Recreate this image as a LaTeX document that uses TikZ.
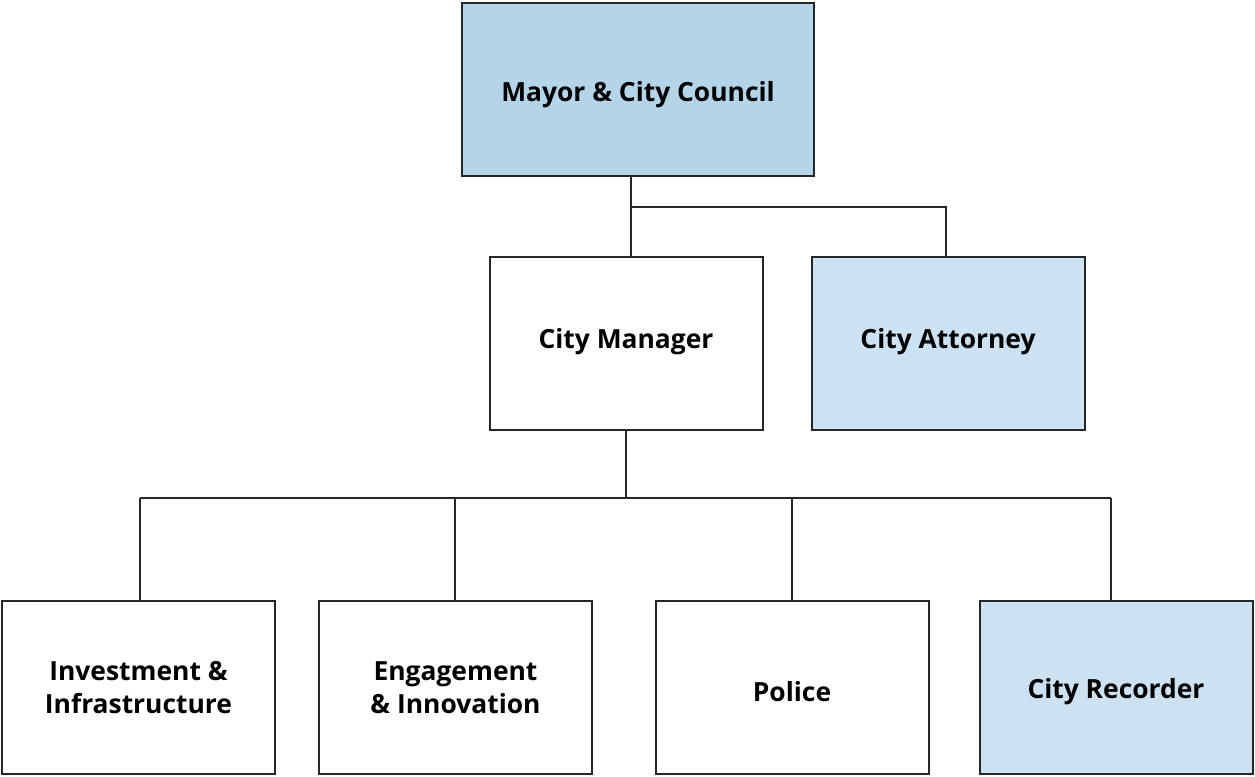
\documentclass[tikz,border=0pt]{standalone}
\usepackage{fontspec}
\setmainfont{Open Sans}
\definecolor{boxblue}{HTML}{B4D4EA}
\definecolor{lightblue}{HTML}{CCE1F1}
\definecolor{edge}{HTML}{262626}
\newcommand{\lowertext}[2]{\raisebox{0pt}[\dimexpr\height+#1\relax]{#2}}
\newcommand{\raisetext}[2]{\raisebox{0pt}[\height][\dimexpr\depth+#1\relax]{#2}}
\begin{document}
\begin{tikzpicture}[x=0.75pt,y=-0.75pt,
  orgbox/.style={draw=edge,line width=1.5pt,minimum width=204.75pt,minimum height=129.75pt,
    inner sep=0pt,align=center,font=\fontsize{19.8}{24.5}\selectfont\bfseries},
  link/.style={draw=edge,line width=1.1pt}]
\useasboundingbox (0,0) rectangle (1255,776);
\node[orgbox,fill=boxblue,minimum width=264pt] (mayor) at (638,89.5) {\lowertext{7.5pt}{Mayor \& City Council}};
\node[orgbox] (cm) at (626,343.5) {\raisetext{3pt}{City Manager}};
\node[orgbox,fill=lightblue] (att) at (948,343.5) {\raisetext{3pt}{City Attorney}};
\node[orgbox] (inv) at (138.5,687.5) {Investment \&\\Infrastructure};
\node[orgbox] (eng) at (455.5,687.5) {Engagement\\\& Innovation};
\node[orgbox] (pol) at (792,687.5) {\lowertext{6pt}{Police}};
\node[orgbox,fill=lightblue] (rec) at (1116,687.5) {\lowertext{6pt}{City Recorder}};
\coordinate (mb) at ([xshift=-5.25pt]mayor.south);
\coordinate (j1) at ([yshift=-22.5pt]mb);
\coordinate (j2) at ([yshift=-50.25pt]cm.south);
\draw[link] (mb) -- (mb |- cm.north);
\draw[link] (j1) -| ([xshift=-1.5pt]att.north);
\draw[link] (cm.south) -- (j2);
\draw[link] ([xshift=1.2pt]inv.north |- j2) -- ([xshift=-3.6pt]rec.north |- j2);
\draw[link] ([xshift=1.2pt]inv.north) -- ([xshift=1.2pt]inv.north |- j2);
\draw[link] ([xshift=-0.4pt]eng.north) -- ([xshift=-0.4pt]eng.north |- j2);
\draw[link] (pol.north) -- (pol.north |- j2);
\draw[link] ([xshift=-3.6pt]rec.north) -- ([xshift=-3.6pt]rec.north |- j2);
\end{tikzpicture}
\end{document}
